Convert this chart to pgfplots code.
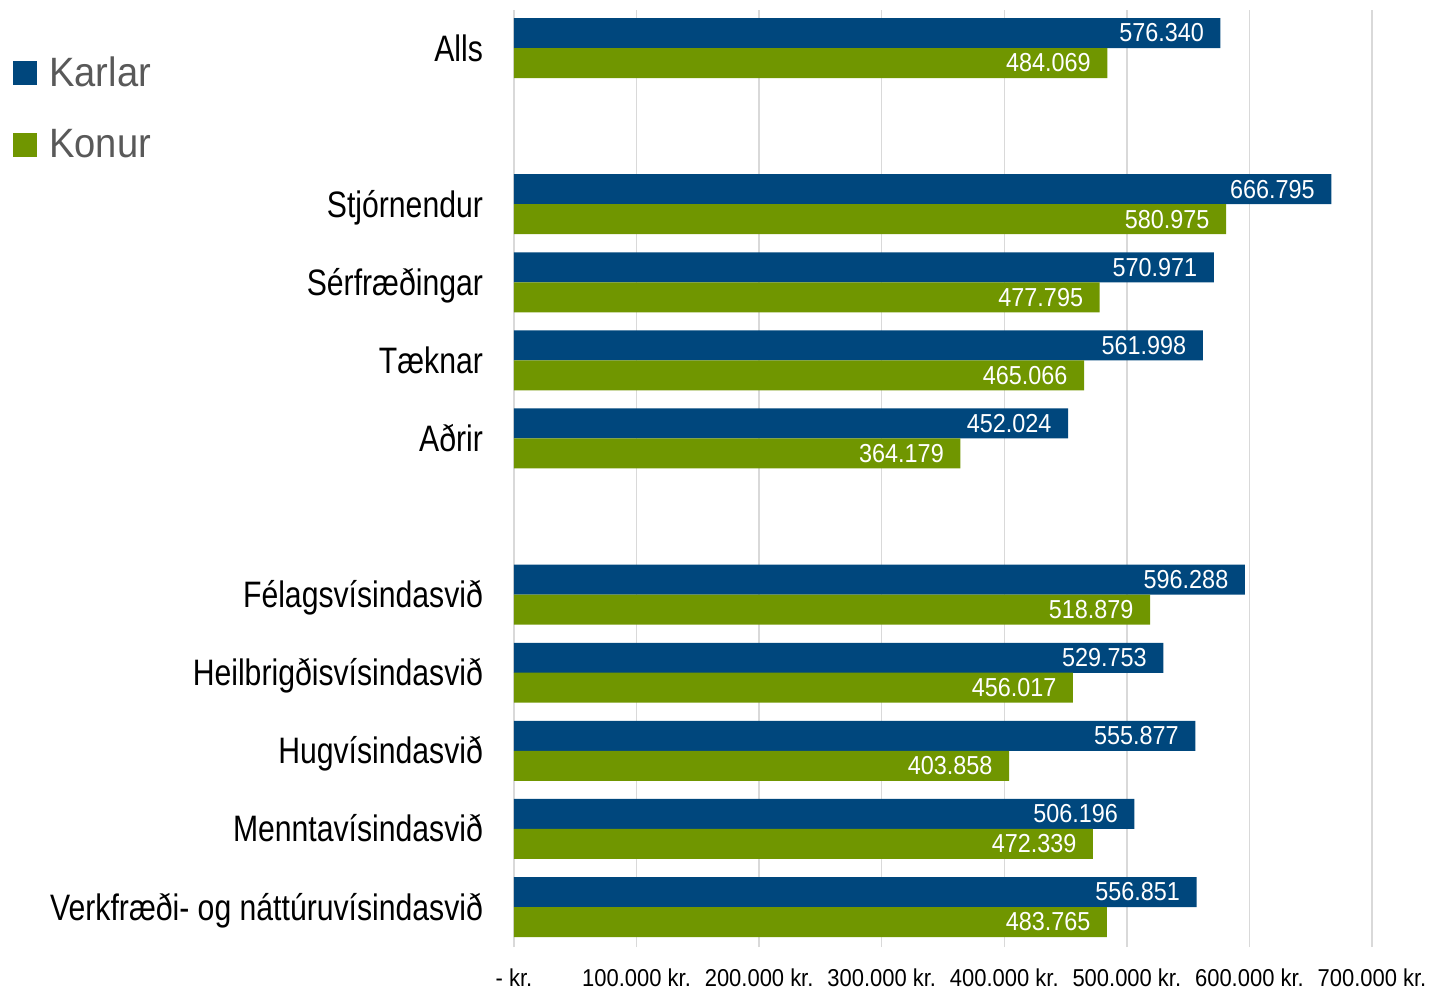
\documentclass[border=0pt]{standalone}
\usepackage{pgfplots}
\pgfplotsset{compat=1.18}
\usepackage{fontspec}
\setmainfont{Liberation Sans}[FakeStretch=0.82]
\newfontfamily\midfont{Liberation Sans}[FakeStretch=0.9]
\newfontfamily\widefont{Liberation Sans}[FakeStretch=0.93]
\definecolor{karl}{RGB}{0,71,125}
\definecolor{kona}{RGB}{112,150,0}
\definecolor{gridc}{RGB}{217,217,217}
\definecolor{legtxt}{RGB}{89,89,89}
\begin{document}
\begin{tikzpicture}
\begin{axis}[
  name=ax,
  scale only axis,
  width=429pt, height=468.5pt,
  xbar, bar width=15pt, bar shift=0pt,
  xmin=0, xmax=700000,
  ymin=-0.512, ymax=11.487,
  axis line style={draw=none},
  xmajorgrids, grid style={gridc, line width=0.7pt},
  major tick length=0pt,
  scaled x ticks=false,
  xtick={0,100000,200000,300000,400000,500000,600000,700000},
  xticklabels={- kr., 100.000 kr., 200.000 kr., 300.000 kr., 400.000 kr., 500.000 kr., 600.000 kr., 700.000 kr.},
  xticklabel style={font=\midfont\fontsize{12.2}{14}\selectfont, yshift=-7.5pt},
  ytick={0,1,2,3,4,6,7,8,9,11},
  yticklabels={Verkfræði- og náttúruvísindasvið, Menntavísindasvið, Hugvísindasvið, Heilbrigðisvísindasvið, Félagsvísindasvið, Aðrir, Tæknar, Sérfræðingar, Stjórnendur, Alls},
  yticklabel style={font=\fontsize{18.4}{20}\selectfont, xshift=-12pt, text height=13pt, text depth=0pt},
  /pgf/number format/assume math mode=true,
  /pgf/number format/.cd, fixed, precision=0, 1000 sep={.},
  /pgfplots/.cd,
  point meta=x,
  nodes near coords={\llap{\pgfmathprintnumber{\pgfplotspointmeta}\hspace{9pt}}},
  every node near coord/.append style={text=white, font=\midfont\fontsize{13}{15}\selectfont, inner sep=0pt},
  legend cell align=left,
  legend style={draw=none, fill=none, at={(-0.584,0.955)}, anchor=north west,
    font=\widefont\fontsize{20.5}{23}\selectfont, text=legtxt, row sep=16pt, inner sep=0pt,
    nodes={inner xsep=6pt}},
  legend image code/.code={\fill[#1] (0pt,-6pt) rectangle (12pt,6pt);},
]
\addplot[fill=karl, draw=none] coordinates {
  (576340,11.192) (666795,9.192) (570971,8.192) (561998,7.192) (452024,6.192)
  (596288,4.192) (529753,3.192) (555877,2.192) (506196,1.192) (556851,0.192)
};
\addplot[fill=kona, draw=none] coordinates {
  (484069,10.808) (580975,8.808) (477795,7.808) (465066,6.808) (364179,5.808)
  (518879,3.808) (456017,2.808) (403858,1.808) (472339,0.808) (483765,-0.192)
};
\legend{Karlar, Konur}
\end{axis}
\pgfresetboundingbox
\path ([shift={(-257pt,-21.5pt)}]ax.south west) rectangle ([shift={(29.5pt,5pt)}]ax.north east);
\end{tikzpicture}
\end{document}
